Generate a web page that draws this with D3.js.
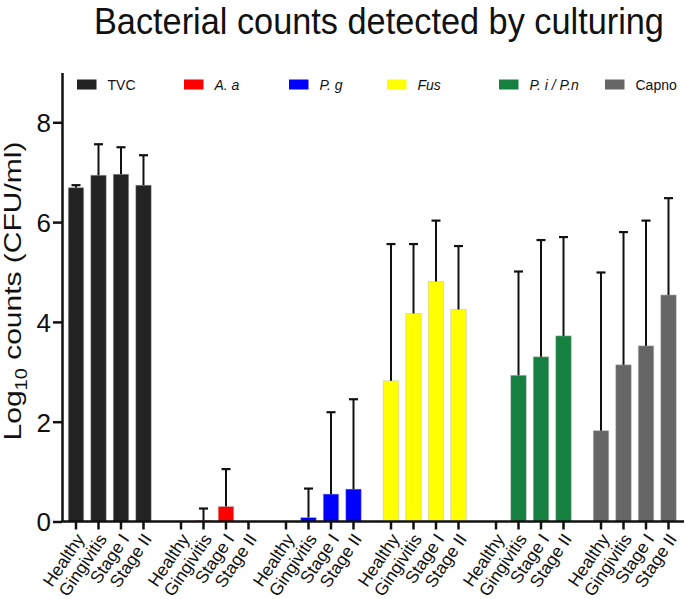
<!DOCTYPE html>
<html><head><meta charset="utf-8">
<script src="https://cdn.jsdelivr.net/npm/d3@7"></script>
<style>
html,body{margin:0;padding:0;background:#fff;}
text{font-family:"Liberation Sans",Arial,Helvetica,sans-serif;}
</style></head>
<body>
<svg id="chart" width="685" height="599"></svg>
<script>
// ---- data ----
const groups = ["TVC", "A. a", "P. g", "Fus", "P. i / P.n", "Capno"];
const stages = ["Healthy", "Gingivitis", "Stage I", "Stage II"];
const colors = ["#232323", "#ff0000", "#0000ff", "#ffff00", "#158040", "#666666"];
const italicLegend = [false, true, true, true, true, false];
const meanTVC   = [6.69, 6.94, 6.96, 6.74];
const sdTVC     = [0.05, 0.62, 0.54, 0.60];
const meanAa    = [0, 0.02, 0.30, 0];
const sdAa      = [0, 0.24, 0.75, 0];
const meanPg    = [0, 0.08, 0.55, 0.65];
const sdPg      = [0, 0.58, 1.64, 1.80];
const meanFus   = [2.82, 4.17, 4.81, 4.25];
const sdFus     = [2.74, 1.39, 1.22, 1.27];
const meanPi    = [0, 2.93, 3.30, 3.72];
const sdPi      = [0, 2.08, 2.34, 1.98];
const meanCapno = [1.82, 3.14, 3.52, 4.54];
const sdCapno   = [3.17, 2.66, 2.51, 1.94];
const yTicks = [0, 2, 4, 6, 8];

const means = [meanTVC, meanAa, meanPg, meanFus, meanPi, meanCapno];
const sds = [sdTVC, sdAa, sdPg, sdFus, sdPi, sdCapno];
const rows = [];
groups.forEach((g, gi) => stages.forEach((s, si) => rows.push({g, gi, s, v: means[gi][si], sd: sds[gi][si]})));

// ---- layout ----
const svg = d3.select("#chart");
const y0 = 521.5, yTop = 72.4, axisX = 62, axisRight = 684;
const y = d3.scaleLinear().domain([0, 9]).range([y0, yTop]);
const xg = d3.scaleBand().domain(groups).range([64.75, 679.75]).paddingInner(0.143).paddingOuter(0);
const xs = d3.scaleBand().domain(stages).range([0, xg.bandwidth()]);
const barW = 15.5;
const cx = d => xg(d.g) + xs(d.s) + xs.bandwidth() / 2;

// title
svg.append("text").attr("transform", "translate(94,34) scale(1,1.1)").attr("font-size", 34.3)
  .attr("fill", "#111").text("Bacterial counts detected by culturing");

// y axis label
const yl = svg.append("text").attr("transform", `translate(21,${(142 + 440) / 2}) scale(0.8,1) rotate(-90)`)
  .attr("text-anchor", "middle").attr("font-size", 30).attr("fill", "#111");
yl.append("tspan").text("Log");
yl.append("tspan").attr("font-size", 20).attr("dy", 8).text("10");
yl.append("tspan").attr("dy", -8).text(" counts (CFU/ml)");

// bars
svg.append("g").selectAll("rect").data(rows.filter(d => d.v > 0)).join("rect")
  .attr("x", d => cx(d) - barW / 2).attr("width", barW)
  .attr("y", d => y(d.v)).attr("height", d => y0 - y(d.v))
  .attr("fill", d => colors[d.gi])
  .attr("stroke", "#bbb").attr("stroke-width", 0.8).attr("stroke-opacity", 0.6);

// error bars
const eb = svg.append("g").attr("stroke", "#111").attr("stroke-width", 2);
const ebRows = rows.filter(d => d.sd > 0);
eb.selectAll("line.v").data(ebRows).join("line").attr("class", "v")
  .attr("x1", cx).attr("x2", cx).attr("y1", d => y(d.v)).attr("y2", d => y(d.v + d.sd));
eb.selectAll("line.c").data(ebRows).join("line").attr("class", "c")
  .attr("x1", d => cx(d) - 4.5).attr("x2", d => cx(d) + 4.5)
  .attr("y1", d => y(d.v + d.sd)).attr("y2", d => y(d.v + d.sd)).attr("stroke-width", 2.2);

// y axis
const yAxis = d3.axisLeft(y).tickValues(yTicks).tickSize(9).tickSizeOuter(0).tickPadding(2).tickFormat(d3.format("d"));
const gy = svg.append("g").attr("transform", `translate(${axisX},0)`).call(yAxis);
gy.select(".domain").attr("stroke", "#111").attr("stroke-width", 2.5);
gy.selectAll(".tick line").attr("stroke", "#111").attr("stroke-width", 2.5);
gy.selectAll(".tick text").attr("font-size", 26).attr("fill", "#111")
  .attr("font-family", "\"Liberation Sans\",Arial,sans-serif").attr("dy", "0.36em");

// x axis
const gx = svg.append("g");
gx.append("line").attr("x1", axisX - 1).attr("x2", axisRight).attr("y1", y0).attr("y2", y0)
  .attr("stroke", "#111").attr("stroke-width", 2.5);
gx.selectAll("line.t").data(rows).join("line").attr("class", "t")
  .attr("x1", cx).attr("x2", cx).attr("y1", y0).attr("y2", y0 + 8)
  .attr("stroke", "#111").attr("stroke-width", 2.5);
gx.selectAll("text").data(rows).join("text")
  .attr("transform", d => `translate(${cx(d) + 4},${y0 + 14}) rotate(-56)`)
  .attr("text-anchor", "end").attr("dy", "0.35em").attr("font-size", 17.5).attr("fill", "#111")
  .text(d => d.s);

// legend
const legendX = [77, 184, 289, 387, 499, 605];
const lg = svg.append("g").selectAll("g").data(groups).join("g")
  .attr("transform", (d, i) => `translate(${legendX[i]},79.5)`);
lg.append("rect").attr("width", 19.5).attr("height", 10).attr("fill", (d, i) => colors[i]);
lg.append("text").attr("x", 30.5).attr("y", 10).attr("font-size", 14).attr("fill", "#111")
  .attr("font-style", (d, i) => italicLegend[i] ? "italic" : "normal").text(d => d);
</script>
</body></html>
